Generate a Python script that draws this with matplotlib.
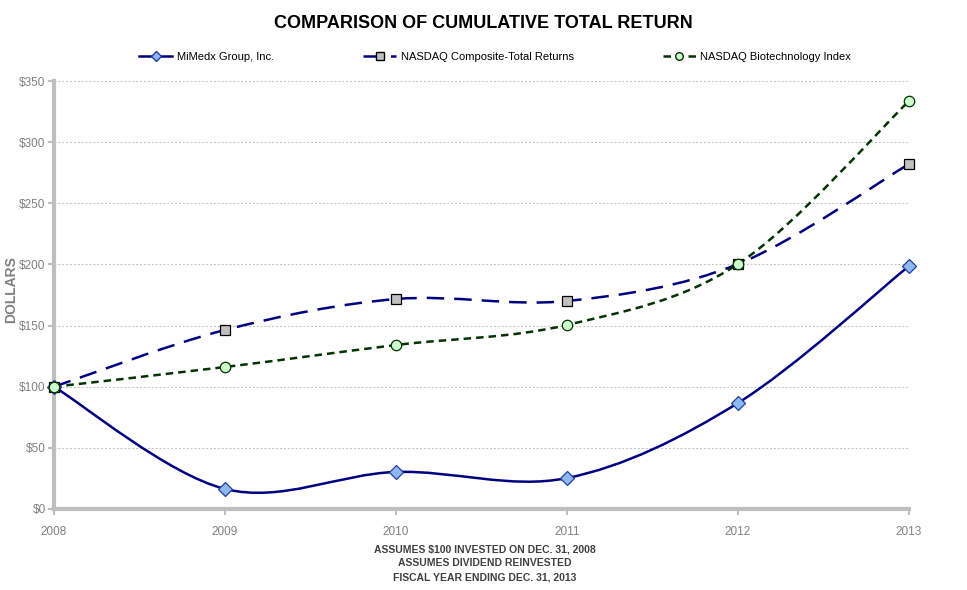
import matplotlib
matplotlib.use("Agg")
import matplotlib.pyplot as plt
import numpy as np
from matplotlib.path import Path
from matplotlib.patches import PathPatch
from matplotlib.lines import Line2D

plt.rcParams['font.family'] = ['Liberation Sans Narrow', 'Liberation Sans', 'DejaVu Sans']

years = [2008, 2009, 2010, 2011, 2012, 2013]
mimedx = [100, 16.4, 30.3, 25.3, 86.7, 198.7]
nasdaq = [100, 146.4, 171.7, 170.1, 200.3, 282.1]
biotech = [100, 116.1, 134.1, 150.5, 200.3, 333.6]
yticks = [0, 50, 100, 150, 200, 250, 300, 350]


def smooth_path(x, y):
    # Excel-like smoothed line: cubic Bezier segments with Catmull-Rom tangents
    x = np.asarray(x, float)
    y = np.asarray(y, float)
    pts = np.column_stack([x, y])
    n = len(pts)
    verts = [pts[0]]
    codes = [Path.MOVETO]
    for i in range(n - 1):
        p0 = pts[i - 1] if i > 0 else pts[i]
        p1 = pts[i]
        p2 = pts[i + 1]
        p3 = pts[i + 2] if i + 2 < n else pts[i + 1]
        c1 = p1 + (p2 - p0) / 6.0
        c2 = p2 - (p3 - p1) / 6.0
        verts += [c1, c2, p2]
        codes += [Path.CURVE4] * 3
    return Path(verts, codes)


fig = plt.figure(figsize=(9.67, 5.9), dpi=100)
ax = fig.add_axes([0.0558, 0.1373, 0.8842, 0.7254])

series = [
    (mimedx, dict(color='#000080', lw=1.8, ls='-'), dict(marker='D', ms=7, mfc='#8fb8f0', mec='#1f3f9f'), 'MiMedx Group, Inc.'),
    (nasdaq, dict(color='#000080', lw=1.8, ls=(0, (7, 4))), dict(marker='s', ms=7.5, mfc='#c0c0c0', mec='#000000'), 'NASDAQ Composite-Total Returns'),
    (biotech, dict(color='#003300', lw=1.8, ls=(0, (3, 2))), dict(marker='o', ms=7.5, mfc='#ccffcc', mec='#003300'), 'NASDAQ Biotechnology Index'),
]

handles = []
for vals, lstyle, mstyle, label in series:
    patch = PathPatch(smooth_path(years, vals), facecolor='none', edgecolor=lstyle['color'],
                      lw=lstyle['lw'], linestyle=lstyle['ls'], zorder=3)
    ax.add_patch(patch)
    ax.plot(years, vals, ls='none', zorder=4, mew=0.9, clip_on=False, **mstyle)
    handles.append(Line2D([], [], color=lstyle['color'], lw=lstyle['lw'], ls=lstyle['ls'],
                          **dict(mstyle, ms=5.5)))

ax.set_xlim(2008, 2013)
ax.set_ylim(0, 350)
ax.set_xticks(years)
ax.set_xticklabels([str(y) for y in years])
ax.set_yticks(yticks)
ax.set_yticklabels(['$%d' % v for v in yticks])

ax.grid(axis='y', color='#bfbfbf', ls=(0, (2, 2)), lw=0.7)
ax.set_axisbelow(True)
for s in ['top', 'right']:
    ax.spines[s].set_visible(False)
for s in ['left', 'bottom']:
    ax.spines[s].set_color('#bfbfbf')
    ax.spines[s].set_linewidth(3)
ax.tick_params(axis='both', colors='#bfbfbf', labelcolor='#808080', labelsize=8.5, length=4, width=1.5)
ax.tick_params(axis='x', pad=8)
ax.tick_params(axis='y', pad=2)

fig.text(0.004, 0.51, 'DOLLARS', rotation=90, ha='left', va='center', fontsize=10,
         fontweight='bold', color='#808080')

fig.suptitle('COMPARISON OF CUMULATIVE TOTAL RETURN', x=0.5, y=0.975, fontsize=13,
             fontweight='bold', color='#000000')

fig.legend(handles=handles, labels=[s[3] for s in series], loc='center', ncol=3,
           bbox_to_anchor=(0.512, 0.903), frameon=False, fontsize=8, handlelength=3.0,
           columnspacing=8.0, handletextpad=0.4)

notes = ['ASSUMES $100 INVESTED ON DEC. 31, 2008', 'ASSUMES DIVIDEND REINVESTED',
         'FISCAL YEAR ENDING DEC. 31, 2013']
for i, t in enumerate(notes):
    fig.text(0.501, 1 - (549 + 14.5 * i) / 590, t, ha='center', va='center', fontsize=7.5,
             fontweight='bold', color='#404040')

fig.savefig('out.png', dpi=100)
